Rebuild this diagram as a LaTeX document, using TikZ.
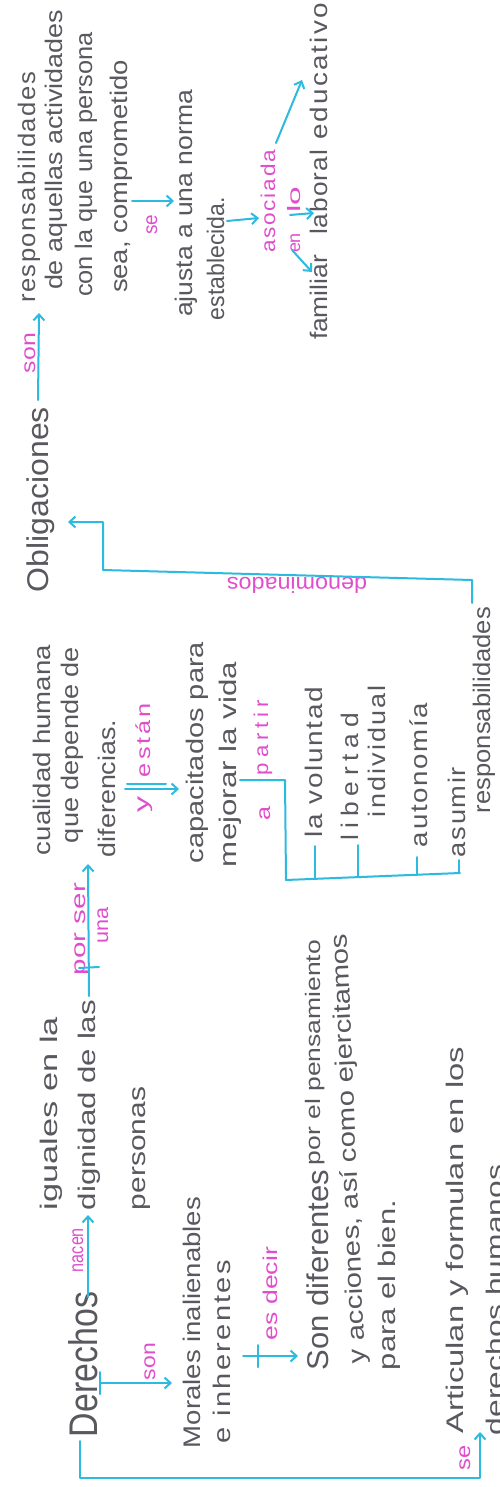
\documentclass[tikz,border=0pt]{standalone}
\usepackage{fontspec}
\setmainfont{Liberation Sans}
\usetikzlibrary{arrows.meta}
\definecolor{pencil}{RGB}{88,88,94}
\definecolor{mag}{RGB}{224,78,206}
\definecolor{cyanl}{RGB}{45,186,224}
% stretch a handwritten line to a given length; optional letter spacing
\newcommand{\hwfit}[3][0]{\resizebox{#2pt}{\height}{\addfontfeature{LetterSpace=#1}#3}}
\begin{document}
\begin{tikzpicture}[x=1pt,y=-1pt,
  txt/.style={rotate=90, anchor=base west, inner sep=0pt, outer sep=0pt, text=pencil, font=\fontsize{24}{28}\selectfont},
  lbl/.style={txt, text=mag, font=\fontsize{20}{24}\selectfont},
  con/.style={draw=cyanl, line width=2pt, line cap=round, line join=round},
  arr/.style={con, -{Straight Barb[length=6pt,width=11pt]}}]
\useasboundingbox (0,0) rectangle (499,1487);
\fill[white] (0,0) rectangle (499,1487);
\clip (0,0) rectangle (499,1487);

% ---------------- Derechos part
\node[txt, font=\fontsize{40}{44}\selectfont] (derechos) at (97,1437) {\hwfit{145}{Derechos}};
\node[lbl] (nacen) at (83,1272) {\hwfit{44}{nacen}};
\node[txt] (iguales) at (57,1210) {\hwfit{193}{iguales en la}};
\node[txt] (dignidad) at (95,1210) {\hwfit{210}{dignidad de las}};
\node[txt] (personas) at (145,1210) {\hwfit{123}{personas}};
\node[lbl] (son1) at (155,1380) {\hwfit{37}{son}};
\node[txt] (morales) at (200,1448) {\hwfit{251}{Morales inalienables}};
\node[txt] (inherentes) at (230,1443) {\hwfit[8]{183}{e inherentes}};
\node[lbl] (esdecir) at (277,1340) {\hwfit{93}{es decir}};
\node[txt, font=\fontsize{30}{34}\selectfont] (sondif) at (328,1370) {\hwfit{200}{Son diferentes}};
\node[txt, font=\fontsize{21}{25}\selectfont] (pensamiento) at (320,1165) {\hwfit{225}{por el pensamiento}};
\node[txt, rotate=2.4] (acciones) at (365,1363) {\hwfit{430}{y acciones, así como ejercitamos}};
\node[txt] (bien) at (395,1370) {\hwfit{170}{para el bien.}};
\node[lbl] (se1) at (470,1470) {\hwfit{25}{se}};
\node[txt] (articulan) at (463,1433) {\hwfit{386}{Articulan y formulan en los}};
\node[txt] (humanos) at (503,1435) {\hwfit{270}{derechos humanos}};

% ---------------- middle part
\node[lbl] (porser) at (85,975) {\hwfit{92}{por ser}};
\node[lbl] (una) at (108,943) {\hwfit{36}{una}};
\node[txt] (cualidad) at (50,855) {\hwfit{210}{cualidad humana}};
\node[txt] (depende) at (78,843) {\hwfit{196}{que depende de}};
\node[txt] (diferencias) at (115,857) {\hwfit{137}{diferencias.}};
\node[lbl] (ylbl) at (148,812) {\hwfit{16}{y}};
\node[lbl] (estan) at (150,777) {\hwfit[12]{74}{están}};
\node[txt] (capacitados) at (203,863) {\hwfit{221}{capacitados para}};
\node[txt] (mejorar) at (236,867) {\hwfit{205}{mejorar la vida}};
\node[lbl] (alb) at (270,820) {\hwfit{14}{a}};
\node[lbl] (partir) at (268,775) {\hwfit[22]{75}{partir}};
\node[txt] (voluntad) at (322,837) {\hwfit[6]{150}{la voluntad}};
\node[txt] (libertad) at (358,840) {\hwfit[22]{127}{libertad}};
\node[txt] (individual) at (385,817) {\hwfit[8]{132}{individual}};
\node[txt] (autonomia) at (427,847) {\hwfit[6]{144}{autonomía}};
\node[txt] (asumir) at (465,857) {\hwfit[6]{90}{asumir}};
\node[txt] (respons1) at (490,813) {\hwfit{206}{responsabilidades}};

% ---------------- Obligaciones part
\node[txt, font=\fontsize{30}{34}\selectfont] (oblig) at (48,592) {\hwfit{185}{Obligaciones}};
% extra rotate=90 on top of the style's 90: upside-down label
\node[lbl, rotate=90, font=\fontsize{22}{26}\selectfont] (denom) at (367,577) {\hwfit{140}{denominados}};
\node[lbl] (son2) at (35,373) {\hwfit{40}{son}};
\node[txt] (respons2) at (35,303) {\hwfit[6]{231}{responsabilidades}};
\node[txt] (aquellas) at (62,290) {\hwfit{280}{de aquellas actividades}};
\node[txt] (persona) at (92,297) {\hwfit{265}{con la que una persona}};
\node[txt] (comprometido) at (127,293) {\hwfit{233}{sea, comprometido}};
\node[lbl] (se2) at (157,235) {\hwfit{20}{se}};
\node[txt] (ajusta) at (192,317) {\hwfit{227}{ajusta a una norma}};
\node[txt] (establecida) at (224,320) {\hwfit{123}{establecida.}};
\node[lbl] (asociada) at (275,253) {\hwfit[8]{103}{asociada}};
\node[lbl, font=\fontsize{18}{22}\selectfont] (en) at (300,253) {\hwfit{20}{en}};
\node[lbl, font=\fontsize{18}{22}\selectfont] (lo) at (300,213) {\hwfit{26}{lo}};
\node[txt] (familiar) at (327,340) {\hwfit{85}{familiar}};
\node[txt] (laboral) at (327,235) {\hwfit[4]{85}{laboral}};
\node[txt] (educativo) at (327,140) {\hwfit[8]{137}{educativo}};

% ---------------- connector end points
\coordinate (derNacen) at (88,1297);   \coordinate (digIn) at (88,1215);
\coordinate (derSon) at (100,1383);    \coordinate (morIn) at (172,1383);
\coordinate (inhOut) at (243,1356);    \coordinate (sonIn) at (298,1356);
\coordinate (derSe) at (80,1441);      \coordinate (artIn) at (480,1432);
\coordinate (lasOut) at (89,996);      \coordinate (cualIn) at (88,864);
\coordinate (difOut) at (125,789);     \coordinate (capIn) at (179,789);
\coordinate (vidaOut) at (240,780);    \coordinate (listEnd) at (460,873);
\coordinate (resOut) at (472,603);     \coordinate (oblIn) at (68,522);
\coordinate (oblOut) at (38,400);      \coordinate (resIn) at (39,313);
\coordinate (comOut) at (132,201);     \coordinate (ajuIn) at (174,201);
\coordinate (estOut) at (227,221);     \coordinate (asoIn) at (259,218);
\coordinate (enOut) at (292,250);      \coordinate (famIn) at (312,272);
\coordinate (loOut) at (290,215);      \coordinate (labIn) at (314,213);
\coordinate (asoOut) at (276,143);     \coordinate (eduIn) at (302,80);

% ---------------- connectors
\draw[arr] (derNacen) -- (digIn);
\draw[con] (100,1372) -- (100,1394);
\draw[arr] (derSon) -- (morIn);
\draw[con] (258,1345) -- (258,1367);
\draw[arr] (inhOut) -- (sonIn);
\draw[arr] (derSe) -- (80,1478) -- (480,1478) -- (artIn);
\draw[arr] (lasOut) -- (cualIn);
\draw[con] (79,968) -- (99,967);
\draw[arr] (difOut) -- (capIn);
\draw[con] (127,784) -- (166,784);
\draw[con] (vidaOut) -- (285,780) -- (286,880) -- (listEnd);
\draw[con] (315,879) -- (315,846);
\draw[con] (358,877) -- (358,845);
\draw[con] (417,875) -- (417,857);
\draw[con] (459,873) -- (459,860);
\draw[arr] (resOut) -- (472,580) -- (103,570) -- (103,522) -- (oblIn);
\draw[arr] (oblOut) -- (resIn);
\draw[arr] (comOut) -- (ajuIn);
\draw[arr] (estOut) -- (asoIn);
\draw[arr] (enOut) -- (famIn);
\draw[arr] (loOut) -- (labIn);
\draw[arr] (asoOut) -- (eduIn);
\end{tikzpicture}
\end{document}
